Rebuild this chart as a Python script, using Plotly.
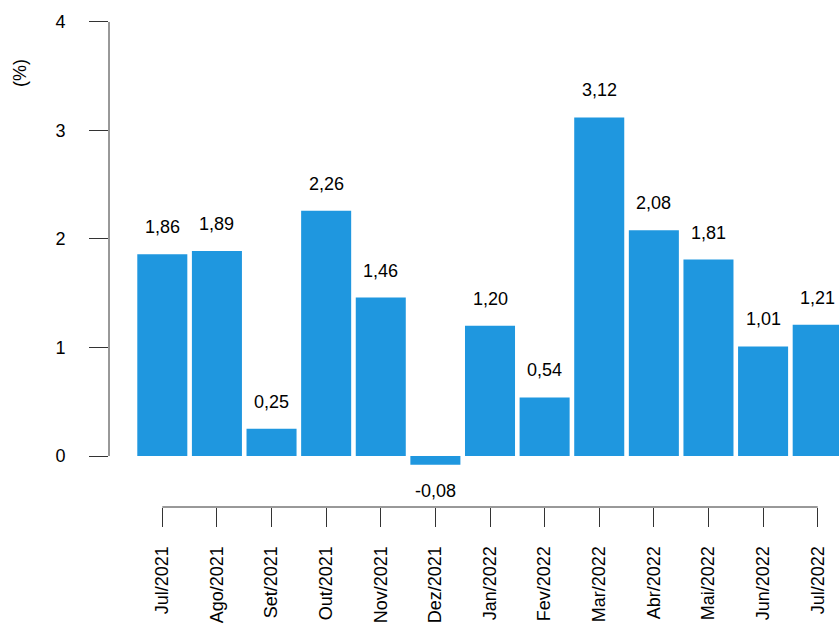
import plotly.graph_objects as go

# monthly variation (%)
months = ["Jul/2021", "Ago/2021", "Set/2021", "Out/2021", "Nov/2021", "Dez/2021",
          "Jan/2022", "Fev/2022", "Mar/2022", "Abr/2022", "Mai/2022", "Jun/2022", "Jul/2022"]
values = [1.86, 1.89, 0.25, 2.26, 1.46, -0.08, 1.20, 0.54, 3.12, 2.08, 1.81, 1.01, 1.21]
y_ticks = [0, 1, 2, 3, 4]

labels = [f"{v:.2f}".replace(".", ",") for v in values]

fnt = dict(family="Liberation Sans, Arial, sans-serif", size=18, color="black")
axcol = "#333333"

fig = go.Figure()
fig.add_trace(go.Bar(x=months, y=values, marker_color="#1F97DF",
                     marker_line_width=0, showlegend=False))

# value labels, above positive bars and below negative ones
for m, v, t in zip(months, values, labels):
    fig.add_annotation(x=m, y=v, text=t, showarrow=False, font=fnt,
                       yanchor="middle", yshift=27 if v >= 0 else -26)

fig.add_annotation(xref="paper", yref="y", x=(20 - 109) / 730, y=3.53, text="(%)",
                   textangle=-90, showarrow=False, font=fnt,
                   xanchor="center", yanchor="middle")

# R-style axis lines that stop at first/last tick
fig.add_shape(type="line", xref="paper", yref="y", x0=0, x1=0, y0=0, y1=4,
              line=dict(color=axcol, width=1))
fig.add_shape(type="line", xref="x", yref="paper", x0=0, x1=len(months) - 1, y0=0, y1=0,
              line=dict(color=axcol, width=1))

fig.update_layout(
    width=839, height=626,
    margin=dict(l=109, r=0, t=11, b=119, autoexpand=False),
    plot_bgcolor="white", paper_bgcolor="white",
    bargap=0.084,
    font=fnt,
    xaxis=dict(range=[-0.976, 12.39], showgrid=False, zeroline=False, showline=False,
               ticks="outside", ticklen=19, tickcolor=axcol, tickangle=-90,
               ticklabelstandoff=12, tickfont=fnt),
    yaxis=dict(range=[-0.47, 4.101], tickvals=y_ticks, showgrid=False, zeroline=False,
               showline=False, ticks="outside", ticklen=19, tickcolor=axcol,
               ticklabelstandoff=20, tickfont=fnt),
)

fig.write_html("out.html", config={"displayModeBar": False},
               post_script="document.body.style.margin='0';")
